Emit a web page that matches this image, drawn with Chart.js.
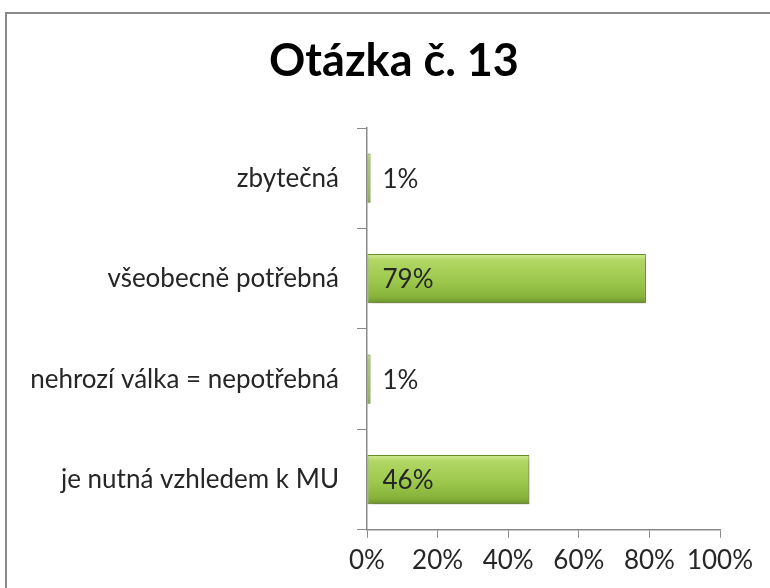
<!DOCTYPE html>
<html>
<head>
<meta charset="utf-8">
<script src="https://cdn.jsdelivr.net/npm/chart.js@4"></script>
<style>
  html, body { margin: 0; padding: 0; background: #fff; overflow: hidden; }
  #wrap { position: relative; width: 770px; height: 588px; }
  #frame { position: absolute; left: 5px; top: 12px; width: 800px; height: 600px;
           border-left: 2px solid #8a8a8a; border-top: 2px solid #8a8a8a; box-sizing: border-box; }
  canvas { position: absolute; left: 0; top: 0; }
</style>
</head>
<body>
<div id="wrap">
  <div id="frame"></div>
  <canvas id="chart" width="770" height="588"></canvas>
</div>
<script>
const titleText = "Otázka č. 13";
const categories = ["zbytečná", "všeobecně potřebná", "nehrozí válka = nepotřebná", "je nutná vzhledem k MU"];
const values = [1, 79, 1, 46];
const xTicks = [0, 20, 40, 60, 80, 100];

const fontFamily = "Lato, 'Open Sans', sans-serif";
const barPct = 0.49;

// vertical gradient per bar, worked out from the y scale
function barFill(context) {
  const chart = context.chart;
  const y = chart.scales.y;
  if (!y || !chart.chartArea) return "#9cc84c";
  const center = y.getPixelForValue(context.dataIndex);
  const h = (chart.chartArea.height / categories.length) * barPct;
  const top = center - h / 2;
  const g = chart.ctx.createLinearGradient(0, top, 0, top + h);
  g.addColorStop(0, "#d2eb98");
  g.addColorStop(0.12, "#b1d765");
  g.addColorStop(0.55, "#9cc84c");
  g.addColorStop(0.88, "#86b23a");
  g.addColorStop(1, "#6b912a");
  return g;
}

const valueLabels = {
  id: "valueLabels",
  afterDatasetsDraw(chart) {
    const ctx = chart.ctx;
    const meta = chart.getDatasetMeta(0);
    ctx.save();
    ctx.font = "26px " + fontFamily;
    ctx.fillStyle = "#262626";
    ctx.textBaseline = "middle";
    ctx.textAlign = "left";
    meta.data.forEach((bar, i) => {
      ctx.fillText(values[i] + "%", bar.base + 15, bar.y + 1);
    });
    ctx.restore();
  }
};

const barShadow = {
  id: "barShadow",
  beforeDatasetsDraw(chart) {
    chart.ctx.save();
    chart.ctx.shadowColor = "rgba(0,0,0,0.3)";
    chart.ctx.shadowBlur = 5;
    chart.ctx.shadowOffsetX = 2;
    chart.ctx.shadowOffsetY = 3;
  },
  afterDatasetsDraw(chart) {
    chart.ctx.restore();
  }
};

// the title sits a bit right of the canvas centre in the original
const titleShift = {
  id: "titleShift",
  afterLayout(chart) {
    if (chart.titleBlock) {
      chart.titleBlock.left += 29;
      chart.titleBlock.right += 29;
    }
  }
};

new Chart(document.getElementById("chart"), {
  type: "bar",
  data: {
    labels: categories,
    datasets: [{
      data: values,
      backgroundColor: barFill,
      borderColor: "#6a8c2a",
      borderWidth: 1,
      borderSkipped: false,
      barPercentage: barPct,
      categoryPercentage: 1
    }]
  },
  plugins: [barShadow, valueLabels, titleShift],
  options: {
    indexAxis: "y",
    responsive: false,
    animation: false,
    layout: { padding: { top: 18, right: 50, bottom: 5, left: 10 } },
    plugins: {
      legend: { display: false },
      tooltip: { enabled: false },
      title: {
        display: true,
        text: titleText,
        color: "#000",
        font: { family: fontFamily, size: 45, weight: "bold" },
        padding: { top: 16, bottom: 40 }
      }
    },
    scales: {
      x: {
        min: 0,
        max: 100,
        afterBuildTicks(scale) { scale.ticks = xTicks.map(v => ({ value: v })); },
        ticks: {
          callback: v => v + "%",
          color: "#262626",
          font: { family: fontFamily, size: 26 },
          padding: 7,
          maxRotation: 0,
          minRotation: 0,
          autoSkip: false
        },
        grid: { drawOnChartArea: false, tickLength: 8, color: "#8a8a8a" },
        border: { color: "#8a8a8a", width: 1.5 }
      },
      y: {
        afterFit(scale) { scale.width = 357; },
        ticks: {
          color: "#262626",
          font: { family: fontFamily, size: 26 },
          padding: 18
        },
        grid: { drawOnChartArea: false, tickLength: 10, color: "#8a8a8a" },
        border: { color: "#8a8a8a", width: 1.5 }
      }
    }
  }
});
</script>
</body>
</html>
